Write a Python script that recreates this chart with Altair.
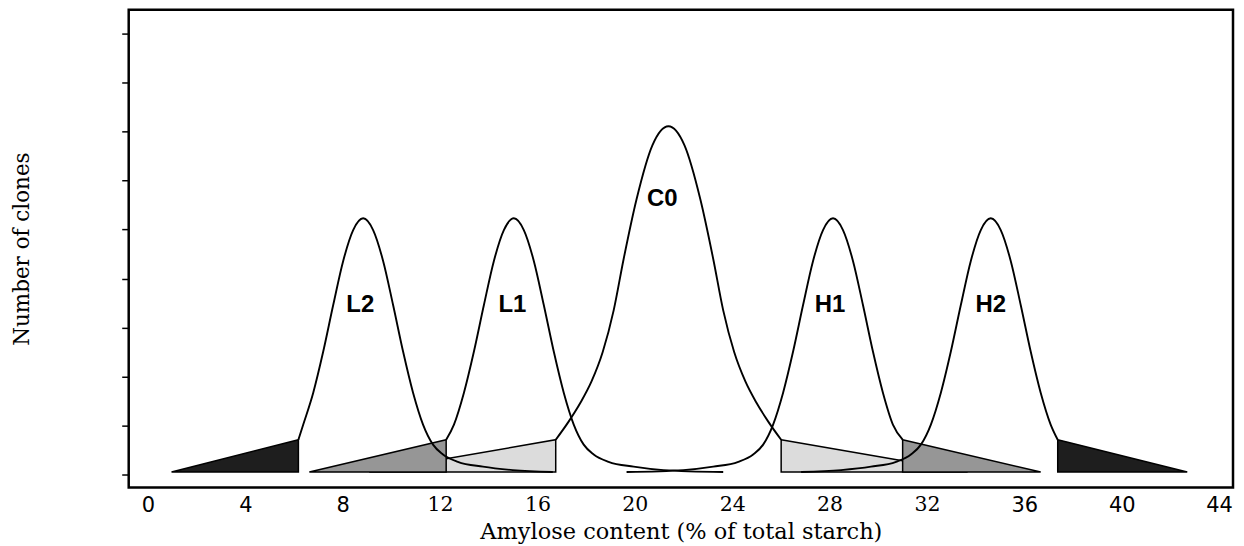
import altair as alt
import pandas as pd

# ---------------- data ----------------
# x: amylose content (% of total starch); y: relative number of clones
L2_x = [6.18, 6.38, 6.79, 7.20, 7.61, 8.02, 8.43, 8.84, 9.25, 9.66, 10.07, 10.48, 10.89, 11.30, 11.71, 12.12, 12.73, 13.76, 14.99, 16.63]
L2_y = [0.71, 1.02, 1.67, 2.51, 3.46, 4.36, 4.99, 5.23, 4.99, 4.36, 3.46, 2.51, 1.67, 1.02, 0.61, 0.41, 0.26, 0.16, 0.09, 0.05]

L1_x = [12.25, 12.57, 12.98, 13.39, 13.80, 14.21, 14.62, 15.03, 15.44, 15.85, 16.26, 16.67, 17.08, 17.49, 17.90, 18.31, 18.92, 19.95, 21.18, 23.63]
L1_y = [0.71, 1.02, 1.67, 2.51, 3.46, 4.36, 4.99, 5.23, 4.99, 4.36, 3.46, 2.51, 1.67, 1.02, 0.61, 0.41, 0.26, 0.16, 0.09, 0.05]

C0_x = [16.75, 17.28, 17.77, 18.22, 18.68, 19.13, 19.54, 20.07, 20.72, 21.38, 22.04, 22.69, 23.22, 23.63, 24.08, 24.54, 24.99, 25.48, 26.01]
C0_y = [0.71, 1.08, 1.47, 1.90, 2.50, 3.35, 4.40, 5.62, 6.72, 7.11, 6.72, 5.62, 4.40, 3.35, 2.50, 1.90, 1.47, 1.08, 0.71]

H1_x = [19.66, 21.99, 23.22, 24.25, 24.86, 25.27, 25.68, 26.09, 26.50, 26.91, 27.32, 27.73, 28.14, 28.55, 28.96, 29.37, 29.78, 30.19, 30.60, 31.00]
H1_y = [0.05, 0.09, 0.16, 0.26, 0.41, 0.61, 1.02, 1.67, 2.51, 3.46, 4.36, 4.99, 5.23, 4.99, 4.36, 3.46, 2.51, 1.67, 1.02, 0.71]

H2_x = [26.83, 28.47, 29.70, 30.73, 31.34, 31.75, 32.16, 32.57, 32.98, 33.39, 33.80, 34.21, 34.62, 35.03, 35.44, 35.85, 36.26, 36.67, 37.08, 37.37]
H2_y = [0.05, 0.09, 0.16, 0.26, 0.41, 0.61, 1.02, 1.67, 2.51, 3.46, 4.36, 4.99, 5.23, 4.99, 4.36, 3.46, 2.51, 1.67, 1.02, 0.71]

# shaded tail wedges: tip on the baseline, vertical edge at the curve foot
TRI_TIP = [9.09, 33.67, 6.63, 36.67, 0.97, 42.69]
TRI_EDGE = [16.75, 26.01, 12.25, 31.00, 6.18, 37.37]
TRI_HEIGHT = [0.71, 0.71, 0.71, 0.71, 0.71, 0.71]
TRI_SHADE = ["light", "light", "mid", "mid", "dark", "dark"]
BASE = 0.05

# group labels
LABEL_TEXT = ["L2", "L1", "C0", "H1", "H2"]
LABEL_X = [8.72, 14.97, 21.13, 28.02, 34.62]
LABEL_Y = [3.46, 3.46, 5.62, 3.46, 3.46]

# x tick labels: the middle ones are set in a serif face, the outer ones in a sans face
X_TICKS_SERIF = [12, 16, 20, 24, 28, 32]
X_TICKS_SANS = [0, 4, 8, 36, 40, 44]
Y_TICKS = [0, 1, 2, 3, 4, 5, 6, 7, 8, 9]

SHADE_COLORS = {"light": "#dcdcdc", "mid": "#969696", "dark": "#1e1e1e"}

# ---------------- tables ----------------
rows = []
for name, xs, ys in [("L2", L2_x, L2_y), ("L1", L1_x, L1_y), ("C0", C0_x, C0_y),
                     ("H1", H1_x, H1_y), ("H2", H2_x, H2_y)]:
    for x, y in zip(xs, ys):
        rows.append({"curve": name, "amylose": x, "clones": y})
curves = pd.DataFrame(rows)

trows = []
for i, (tip, edge, h, shade) in enumerate(zip(TRI_TIP, TRI_EDGE, TRI_HEIGHT, TRI_SHADE)):
    trows.append({"id": i, "shade": shade, "amylose": tip, "clones": BASE})
    trows.append({"id": i, "shade": shade, "amylose": edge, "clones": h})
tris = pd.DataFrame(trows)

labels = pd.DataFrame({"label": LABEL_TEXT, "amylose": LABEL_X, "clones": LABEL_Y})

# ---------------- encodings ----------------
x_scale = alt.Scale(domain=[-0.79, 44.57], nice=False, zero=False)
y_scale = alt.Scale(domain=[-0.265, 9.49], nice=False, zero=False)

X_SERIF = alt.X(
    "amylose:Q",
    scale=x_scale,
    axis=alt.Axis(
        orient="bottom", values=X_TICKS_SERIF, ticks=False, domain=False, grid=False,
        labelPadding=7, labelFlush=False, labelOverlap=False, labelColor="black",
        labelFont="DejaVu Serif", labelFontSize=20.5,
        title="Amylose content (% of total starch)",
        titleFont="DejaVu Serif", titleFontSize=22.5, titleFontWeight="normal",
        titleColor="black", titleBaseline="alphabetic", titleY=51,
    ),
)
X_SANS = alt.X(
    "amylose:Q",
    scale=x_scale,
    axis=alt.Axis(
        orient="bottom", values=X_TICKS_SANS, ticks=False, domain=False, grid=False,
        labelPadding=7, labelFlush=False, labelOverlap=False, labelColor="black",
        labelFont="DejaVu Sans", labelFontSize=21, title=None,
    ),
)
Y_AXIS = alt.Y(
    "clones:Q",
    stack=None,
    scale=y_scale,
    axis=alt.Axis(
        orient="left", values=Y_TICKS, labels=False, ticks=True, tickSize=7, tickWidth=1.5,
        tickColor="black", domain=False, grid=False,
        title="Number of clones", titleFont="DejaVu Serif", titleFontSize=21.5,
        titleFontWeight="normal", titleColor="black", titleBaseline="alphabetic",
        titleX=-100, titleAngle=270,
    ),
)
X_PLAIN = alt.X("amylose:Q", scale=x_scale, axis=None)
Y_PLAIN = alt.Y("clones:Q", stack=None, scale=y_scale, axis=None)

layers = []
for shade in ["light", "mid", "dark"]:
    layers.append(
        alt.Chart(tris)
        .transform_filter(alt.datum.shade == shade)
        .mark_area(orient="vertical", fill=SHADE_COLORS[shade], stroke="black",
                   strokeWidth=1.5, fillOpacity=1)
        .encode(x=X_PLAIN, y=Y_PLAIN, y2=alt.datum(BASE), detail="id:N")
    )

lines = (
    alt.Chart(curves)
    .mark_line(interpolate="monotone", color="black", strokeWidth=1.9)
    .encode(x=X_SERIF, y=Y_AXIS, detail="curve:N")
)

text = (
    alt.Chart(labels)
    .mark_text(font="Liberation Sans", fontWeight="bold", fontSize=24, color="black")
    .encode(x=X_SANS, y=Y_PLAIN, text="label:N")
)

chart = (
    alt.layer(*layers, lines, text)
    .resolve_axis(x="independent", y="independent")
    .properties(width=1107, height=479,
                autosize=alt.AutoSizeParams(type="none"),
                padding={"left": 121, "top": 1, "right": 3, "bottom": 57})
    .configure_view(stroke="black", strokeWidth=2.5)
    .configure_axis(grid=False)
)

chart.save("out.html", embed_options={"renderer": "svg", "actions": False})
